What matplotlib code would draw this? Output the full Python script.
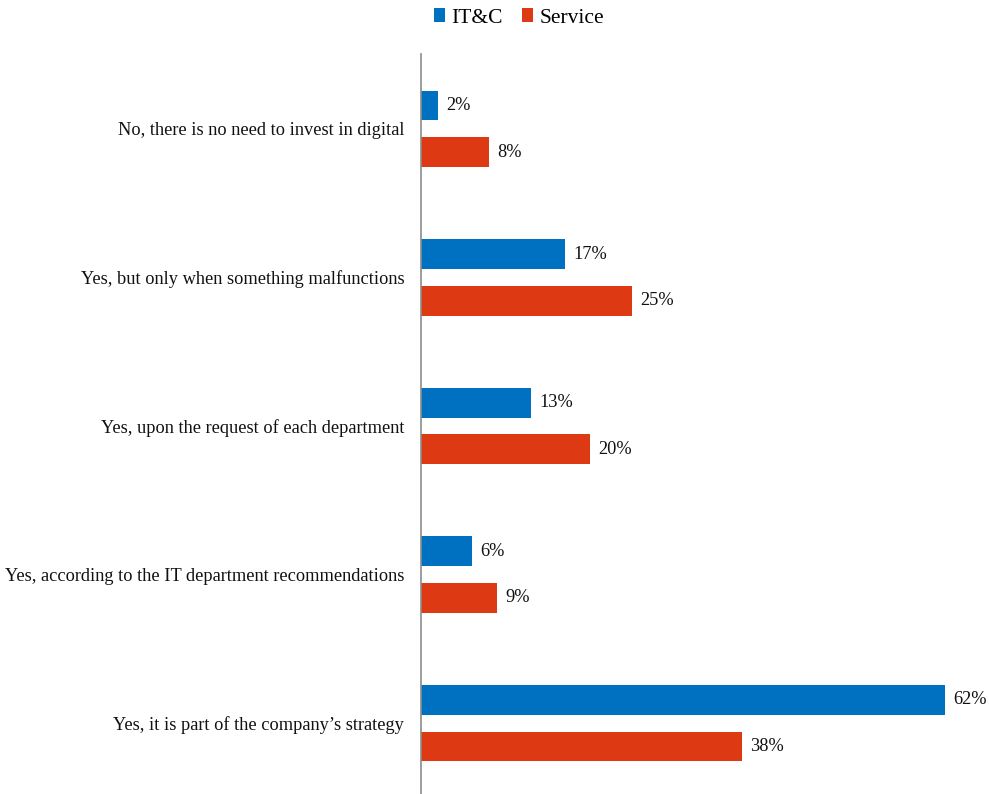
import matplotlib
matplotlib.use("Agg")
import matplotlib.pyplot as plt
import numpy as np

categories = [
    "No, there is no need to invest in digital",
    "Yes, but only when something malfunctions",
    "Yes, upon the request of each department",
    "Yes, according to the IT department recommendations",
    "Yes, it is part of the company\u2019s strategy",
]
itc = [2, 17, 13, 6, 62]
service = [8, 25, 20, 9, 38]
series_names = ["IT&C", "Service"]
colors = ["#0070C0", "#DD3A14"]

plt.rcParams['font.family'] = ['Liberation Serif', 'DejaVu Serif']

W, H = 989, 794
fig = plt.figure(figsize=(W / 100, H / 100), dpi=100)
left_px, right_px, top_px, bot_px = 421, 989, 54.5, 797.5
ax = fig.add_axes([left_px / W, 1 - bot_px / H, (right_px - left_px) / W, (bot_px - top_px) / H])

n = len(categories)
y = np.arange(n)
off = 0.157
h = 0.2
b1 = ax.barh(y - off, itc, height=h, color=colors[0], label=series_names[0])
b2 = ax.barh(y + off, service, height=h, color=colors[1], label=series_names[1])
ax.set_ylim(n - 0.5, -0.5)
ax.set_xlim(0, (right_px - left_px) / 8.45)

for bars, vals in ((b1, itc), (b2, service)):
    for rect, v in zip(bars, vals):
        ax.annotate(f"{v}%", (rect.get_width(), rect.get_y() + rect.get_height() / 2),
                    xytext=(6, 0), textcoords="offset points", va="center", ha="left",
                    fontsize=13.2, color="#111111")

ax.set_yticks(y)
ax.set_yticklabels(categories, fontsize=13.2, color="#111111")
ax.tick_params(axis='y', length=0, pad=12)
ax.set_xticks([])
for s in ("top", "right", "bottom"):
    ax.spines[s].set_visible(False)
ax.spines["left"].set_color("#8c8c8c")
ax.spines["left"].set_linewidth(1.2)

fig.legend(handles=[b1, b2], labels=series_names, loc="center", bbox_to_anchor=(519 / W, 1 - 18 / H),
           ncol=2, frameon=False, fontsize=15.5, handlelength=0.5, handleheight=0.6,
           handletextpad=0.3, columnspacing=0.9)

fig.savefig("out.png", dpi=100, facecolor="white")
